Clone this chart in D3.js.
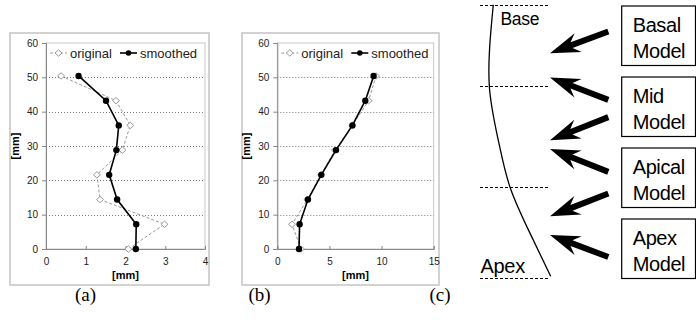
<!DOCTYPE html>
<html>
<head>
<meta charset="utf-8">
<script src="https://cdn.jsdelivr.net/npm/d3@7"></script>
<style>
  body { margin: 0; background: #fff; }
</style>
</head>
<body>
<script>
// (a) og (b): højde [mm] og afvigelse [mm]
const heights = [0, 7.2, 14.4, 21.6, 28.8, 36, 43.2, 50.4];
const origA = [2.07, 2.98, 1.36, 1.28, 1.92, 2.12, 1.76, 0.38];
const smoothA = [2.26, 2.27, 1.79, 1.59, 1.77, 1.83, 1.51, 0.82];
const origB = [2.27, 1.41, 2.88, 4.19, 5.53, 7.2, 8.76, 9.47];
const smoothB = [2.08, 2.14, 2.94, 4.22, 5.63, 7.2, 8.44, 9.24];
const yTicks = [0, 10, 20, 30, 40, 50, 60];
const gridTicks = [10, 20, 30, 40, 50];
const xTicksA = [0, 1, 2, 3, 4];
const xTicksB = [0, 5, 10, 15];
const legendNames = ["original", "smoothed"];

// (c): diagram i "dybde" 0 (base) til 100 (apex)
const levels = [0, 29.7, 66.7, 100];
const curveDepth = [0, 10.3, 29.7, 49.5, 66.7, 83.5, 99.3];
const curveX = [19, 15.3, 13.3, 26.1, 42.9, 71.4, 101];
const boxNames = [["Basal", "Model"], ["Mid", "Model"], ["Apical", "Model"], ["Apex", "Model"]];
const arrowTail = [9.8, 34.8, 41.1, 61.1, 69, 92.2];
const arrowTip = [17.7, 26.6, 49.5, 52.7, 77.3, 84.2];
const panelLabels = ["(a)", "(b)", "(c)"];

const W = 696, H = 334;
const svg = d3.select("body").append("svg")
  .attr("width", W).attr("height", H)
  .style("font-family", "'Liberation Sans', Arial, sans-serif");

function excelChart(box, plot, xDomain, xTicks, orig, smooth) {
  const g = svg.append("g");
  // ydre ramme
  g.append("rect")
    .attr("x", box[0]).attr("y", box[1])
    .attr("width", box[2] - box[0]).attr("height", box[3] - box[1])
    .attr("fill", "none").attr("stroke", "#c4c4c4").attr("stroke-width", 1.5);

  const x = d3.scaleLinear().domain(xDomain).range([plot[0], plot[2]]);
  const y = d3.scaleLinear().domain([0, 60]).range([plot[3], plot[1]]);

  // plotområde
  g.append("rect")
    .attr("x", plot[0]).attr("y", plot[1])
    .attr("width", plot[2] - plot[0]).attr("height", plot[3] - plot[1])
    .attr("fill", "none").attr("stroke", "#c8c8c8");

  // gitterlinjer
  g.selectAll(".grid").data(gridTicks).enter().append("line")
    .attr("x1", plot[0]).attr("x2", plot[2])
    .attr("y1", d => Math.round(y(d)) + 0.5).attr("y2", d => Math.round(y(d)) + 0.5)
    .attr("stroke", "#777").attr("stroke-dasharray", "1,2");

  const yAxis = g.append("g")
    .attr("transform", `translate(${plot[0]},0)`)
    .call(d3.axisLeft(y).tickValues(yTicks).tickSize(4).tickPadding(4));
  const xAxis = g.append("g")
    .attr("transform", `translate(0,${plot[3]})`)
    .call(d3.axisBottom(x).tickValues(xTicks).tickFormat(d3.format("d")).tickSize(-3).tickPadding(9));
  [yAxis, xAxis].forEach(a => {
    a.attr("font-family", "'Liberation Sans', Arial, sans-serif").attr("font-size", 10);
    a.selectAll("path, line").attr("stroke", "#888");
    a.selectAll("text").attr("fill", "#222");
  });

  // aksetitler
  g.append("text")
    .attr("x", (plot[0] + plot[2]) / 2).attr("y", plot[3] + 30)
    .attr("text-anchor", "middle").attr("font-size", 11).attr("font-weight", "bold")
    .text("[mm]");
  g.append("text")
    .attr("transform", `translate(${plot[0] - 27},${(plot[1] + plot[3]) / 2}) rotate(-90)`)
    .attr("text-anchor", "middle").attr("font-size", 11).attr("font-weight", "bold")
    .text("[mm]");

  const line = d3.line().x(d => x(d[0])).y(d => y(d[1]));
  const oPts = orig.map((v, i) => [v, heights[i]]);
  const sPts = smooth.map((v, i) => [v, heights[i]]);
  const diamond = "M0,-3.2L3.5,0L0,3.2L-3.5,0Z";

  g.append("path").datum(oPts).attr("d", line)
    .attr("fill", "none").attr("stroke", "#999").attr("stroke-width", 1)
    .attr("stroke-dasharray", "3,2");
  g.selectAll(".od").data(oPts).enter().append("path")
    .attr("d", diamond)
    .attr("transform", d => `translate(${x(d[0])},${y(d[1])})`)
    .attr("fill", "#fff").attr("stroke", "#999");

  g.append("path").datum(sPts).attr("d", line)
    .attr("fill", "none").attr("stroke", "#000").attr("stroke-width", 1.6);
  g.selectAll(".sd").data(sPts).enter().append("circle")
    .attr("cx", d => x(d[0])).attr("cy", d => y(d[1])).attr("r", 3.2)
    .attr("fill", "#000");

  // legende
  const ly = plot[1] + 10;
  const lg = g.append("g");
  lg.append("line").attr("x1", plot[0] + 4).attr("x2", plot[0] + 21)
    .attr("y1", ly).attr("y2", ly)
    .attr("stroke", "#999").attr("stroke-dasharray", "3,2");
  lg.append("path").attr("d", diamond)
    .attr("transform", `translate(${plot[0] + 12.5},${ly})`)
    .attr("fill", "#fff").attr("stroke", "#999");
  lg.append("text").attr("x", plot[0] + 24).attr("y", ly + 4.5)
    .attr("font-size", 13).attr("fill", "#222").text(legendNames[0]);
  lg.append("line").attr("x1", plot[0] + 74).attr("x2", plot[0] + 91)
    .attr("y1", ly).attr("y2", ly)
    .attr("stroke", "#000").attr("stroke-width", 1.6);
  lg.append("circle").attr("cx", plot[0] + 82.5).attr("cy", ly).attr("r", 2.8)
    .attr("fill", "#000");
  lg.append("text").attr("x", plot[0] + 94).attr("y", ly + 4.5)
    .attr("font-size", 13).attr("fill", "#222").text(legendNames[1]);
}

excelChart([10, 33, 209, 285], [46, 43, 205, 249], [0, 4], xTicksA, origA, smoothA);
excelChart([242, 33, 439, 285], [277.3, 43, 433.7, 249], [0, 15], xTicksB, origB, smoothB);

// (c) diagram
const cx = d3.scaleLinear().domain([0, 100]).range([480, 550]);
const cy = d3.scaleLinear().domain([0, 100]).range([4.7, 278.3]);
const band = d3.scaleBand().domain(d3.range(boxNames.length)).range([6, 278.5]).paddingInner(0.162);
const gc = svg.append("g");

gc.selectAll(".lvl").data(levels).enter().append("line")
  .attr("x1", cx(0)).attr("x2", cx(100))
  .attr("y1", d => Math.round(cy(d)) + 0.5).attr("y2", d => Math.round(cy(d)) + 0.5)
  .attr("stroke", "#000").attr("stroke-dasharray", "3,2");

gc.append("path")
  .datum(curveDepth.map((d, i) => [curveX[i], d]))
  .attr("d", d3.line().x(d => cx(d[0])).y(d => cy(d[1])).curve(d3.curveNatural))
  .attr("fill", "none").attr("stroke", "#000").attr("stroke-width", 1.3);

gc.append("text").attr("x", 500.5).attr("y", 25).attr("font-size", 17.5)
  .attr("letter-spacing", -0.3).text("Base");
gc.append("text").attr("x", 480.5).attr("y", 272.7).attr("font-size", 20)
  .attr("letter-spacing", -0.3).text("Apex");

// modelbokse
const boxLeft = 621.7, boxRight = 695.5;
boxNames.forEach((lines, i) => {
  const top = band(i);
  gc.append("rect")
    .attr("x", boxLeft).attr("y", top)
    .attr("width", boxRight - boxLeft).attr("height", band.bandwidth())
    .attr("fill", "none").attr("stroke", "#000").attr("stroke-width", 1.2);
  lines.forEach((t, j) => {
    gc.append("text").attr("x", boxLeft + 11).attr("y", top + 25.5 + j * 26.5)
      .attr("font-size", 20).attr("letter-spacing", -0.4).text(t);
  });
});

// pile
function arrowPoly(x1, y1, x2, y2) {
  const dx = x2 - x1, dy = y2 - y1, len = Math.hypot(dx, dy);
  const ux = dx / len, uy = dy / len, nx = -uy, ny = ux;
  const L = 30, hw = 10, sw = 3, notch = 23;
  const bx = x2 - ux * L, by = y2 - uy * L;
  const kx = x2 - ux * notch, ky = y2 - uy * notch;
  return [
    [x1 + nx * sw, y1 + ny * sw], [kx + nx * sw, ky + ny * sw], [bx + nx * hw, by + ny * hw],
    [x2, y2],
    [bx - nx * hw, by - ny * hw], [kx - nx * sw, ky - ny * sw], [x1 - nx * sw, y1 - ny * sw]
  ];
}
gc.selectAll(".arrow").data(arrowTail).enter().append("polygon")
  .attr("points", (d, i) => arrowPoly(cx(183.3), cy(d), cx(100), cy(arrowTip[i])).map(p => p.join(",")).join(" "))
  .attr("fill", "#000");

// panel-etiketter
svg.selectAll(".plabel").data(panelLabels).enter().append("text")
  .attr("x", (d, i) => [85.5, 259.5, 440][i]).attr("y", 301)
  .attr("text-anchor", "middle")
  .attr("font-family", "'Liberation Serif', 'DejaVu Serif', serif")
  .attr("font-size", 19).text(d => d);
</script>
</body>
</html>
